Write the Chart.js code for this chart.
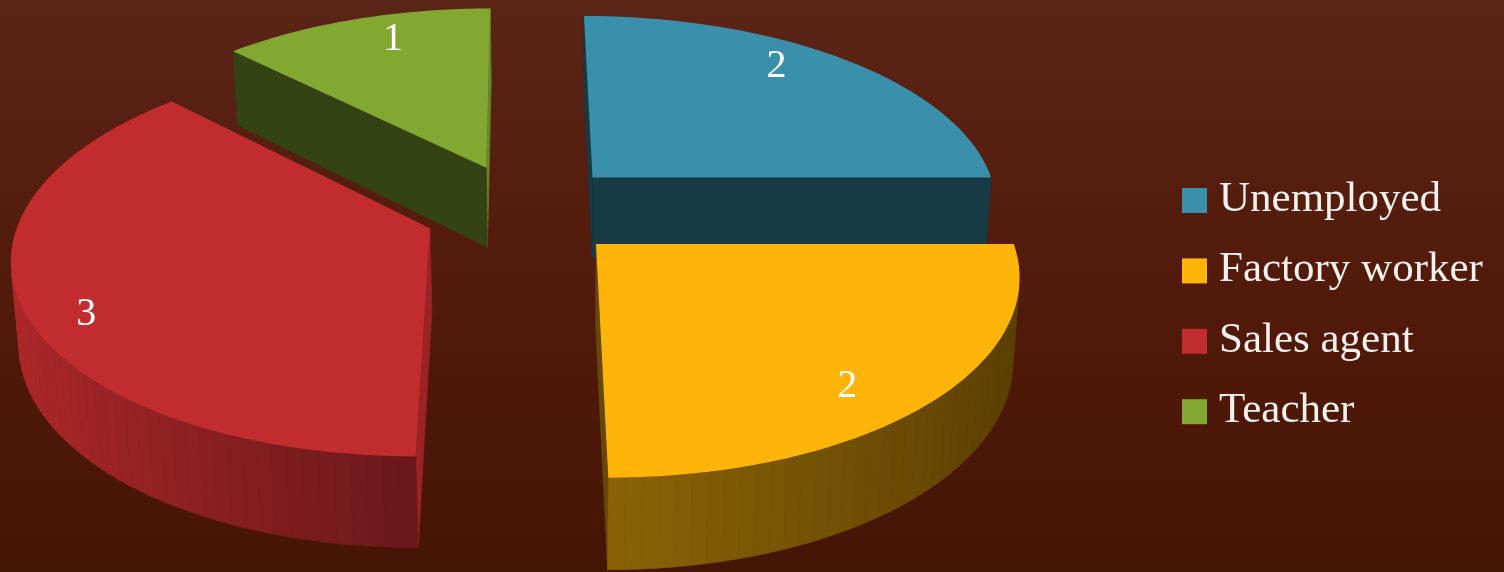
<!DOCTYPE html>
<html>
<head>
<meta charset="utf-8">
<title>Occupation</title>
<style>
  html, body { margin: 0; padding: 0; background: #4e1809; }
  #chart { display: block; background: linear-gradient(#5a2417, #521a0a 50%, #451506); }
</style>
<script src="https://cdn.jsdelivr.net/npm/chart.js@4"></script>
</head>
<body>
<canvas id="chart" width="1504" height="572"></canvas>
<script>
'use strict';

const categories = ['Unemployed', 'Factory worker', 'Sales agent', 'Teacher'];
const people = [2, 2, 3, 1];
const sliceColors = ['#3a90aa', '#ffb40a', '#c12c2f', '#83a832'];

// where each number sits on its slice: turn from the mid angle (degrees), share of the radius
const labelTurn = [-6.9, 5.5, -5.6, 3.6];
const labelReach = [0.84, 0.835, 0.875, 0.83];

// camera for the tilted pie: plane units are pixels at the depth of the centre
const camera = {
  radius: 408,
  depth: 3000,
  vanishX: 520,
  horizonY: -1200,
  centerX: 523.5,
  centerY: 210,
  wallX: 570,
  wallY: 6000,
  wallHeight: 0.014
};

const labelFont = '40px "Liberation Serif"';
const legendFont = '43px "Liberation Serif"';

function project(u, v) {
  const s = 1 / (1 - v / camera.depth);
  return {
    x: camera.vanishX + (camera.centerX - camera.vanishX + u) * s,
    y: camera.horizonY + (camera.centerY - camera.horizonY) * s,
    s: s
  };
}

// same point dropped to the underside of the pie
function lower(p) {
  const t = camera.wallHeight * p.s;
  return { x: p.x + (camera.wallX - p.x) * t, y: p.y + (camera.wallY - p.y) * t };
}

function shade(hex, f) {
  const n = parseInt(hex.slice(1), 16);
  const c = [(n >> 16) & 255, (n >> 8) & 255, n & 255].map(function (v) {
    return Math.round(v * f);
  });
  return 'rgb(' + c.join(',') + ')';
}

function quad(ctx, a, b, color) {
  const a2 = lower(a);
  const b2 = lower(b);
  const pts = [a, b, b2, a2];
  let area = 0;
  pts.forEach(function (p, i) {
    const q = pts[(i + 1) % 4];
    area += p.x * q.y - q.x * p.y;
  });
  if (area >= 0) return; // wall faces away from the camera
  ctx.beginPath();
  pts.forEach(function (p, i) {
    if (i) ctx.lineTo(p.x, p.y);
    else ctx.moveTo(p.x, p.y);
  });
  ctx.closePath();
  ctx.fillStyle = color;
  ctx.strokeStyle = color;
  ctx.lineWidth = 0.7;
  ctx.fill();
  ctx.stroke();
}

// rim is lit from the left
function rimShade(angle) {
  const c = Math.cos(angle);
  return Math.max(0.36, c < 0 ? 0.545 - 0.37 * c : 0.545 - 0.2 * c);
}

// cut faces walked downwards look to the right and catch the light
function cutShade(p, q) {
  return q.y - p.y > Math.abs(q.x - p.x) ? 0.8 : 0.4;
}

function drawSlice(ctx, arc, color) {
  const start = arc.startAngle;
  const end = arc.endAngle;
  const mid = (start + end) / 2;
  const ox = Math.cos(mid) * arc.options.offset;
  const oy = Math.sin(mid) * arc.options.offset;
  const apex = project(ox, oy);
  const R = camera.radius;
  const steps = Math.ceil((end - start) / (Math.PI / 90));
  const rim = [];
  for (let i = 0; i <= steps; i++) {
    const a = start + (end - start) * i / steps;
    rim.push(project(ox + Math.cos(a) * R, oy + Math.sin(a) * R));
  }

  quad(ctx, rim[steps], apex, shade(color, cutShade(rim[steps], apex)));
  quad(ctx, apex, rim[0], shade(color, cutShade(apex, rim[0])));
  for (let i = 0; i < steps; i++) {
    const a = start + (end - start) * (i + 0.5) / steps;
    quad(ctx, rim[i], rim[i + 1], shade(color, rimShade(a)));
  }

  ctx.beginPath();
  ctx.moveTo(apex.x, apex.y);
  rim.forEach(function (p) { ctx.lineTo(p.x, p.y); });
  ctx.closePath();
  ctx.fillStyle = color;
  ctx.fill();
}

const tiltedPie = {
  id: 'tiltedPie',
  beforeDatasetDraw: function (chart, args) {
    const ctx = chart.ctx;
    const order = args.meta.data.map(function (arc, i) { return i; });
    const depthOf = function (i) {
      const arc = args.meta.data[i];
      return Math.sin((arc.startAngle + arc.endAngle) / 2);
    };
    order.sort(function (a, b) { return depthOf(a) - depthOf(b); });
    ctx.save();
    order.forEach(function (i) {
      drawSlice(ctx, args.meta.data[i], sliceColors[i]);
    });
    ctx.restore();
    return false;
  },
  afterDraw: function (chart) {
    const ctx = chart.ctx;
    const arcs = chart.getDatasetMeta(0).data;
    ctx.save();
    ctx.fillStyle = '#fff';
    ctx.textAlign = 'center';
    ctx.textBaseline = 'middle';
    ctx.font = labelFont;
    arcs.forEach(function (arc, i) {
      const mid = (arc.startAngle + arc.endAngle) / 2;
      const turned = mid + labelTurn[i] * Math.PI / 180;
      const r = camera.radius * labelReach[i];
      const p = project(
        Math.cos(mid) * arc.options.offset + Math.cos(turned) * r,
        Math.sin(mid) * arc.options.offset + Math.sin(turned) * r
      );
      ctx.fillText(String(people[i]), p.x, p.y);
    });

    // key on the right
    ctx.textAlign = 'left';
    ctx.font = legendFont;
    categories.forEach(function (name, i) {
      const top = 188 + i * 70.4;
      ctx.fillStyle = sliceColors[i];
      ctx.fillRect(1182, top, 25, 25);
      ctx.fillStyle = '#f7f1ee';
      ctx.fillText(name, 1219, top + 11.5);
    });
    ctx.restore();
  }
};

new Chart(document.getElementById('chart').getContext('2d'), {
  type: 'pie',
  data: {
    labels: categories,
    datasets: [{
      data: people,
      backgroundColor: sliceColors,
      borderWidth: 0,
      offset: 100
    }]
  },
  options: {
    responsive: false,
    animation: false,
    plugins: {
      legend: { display: false },
      tooltip: { enabled: false }
    }
  },
  plugins: [tiltedPie]
});
</script>
</body>
</html>
